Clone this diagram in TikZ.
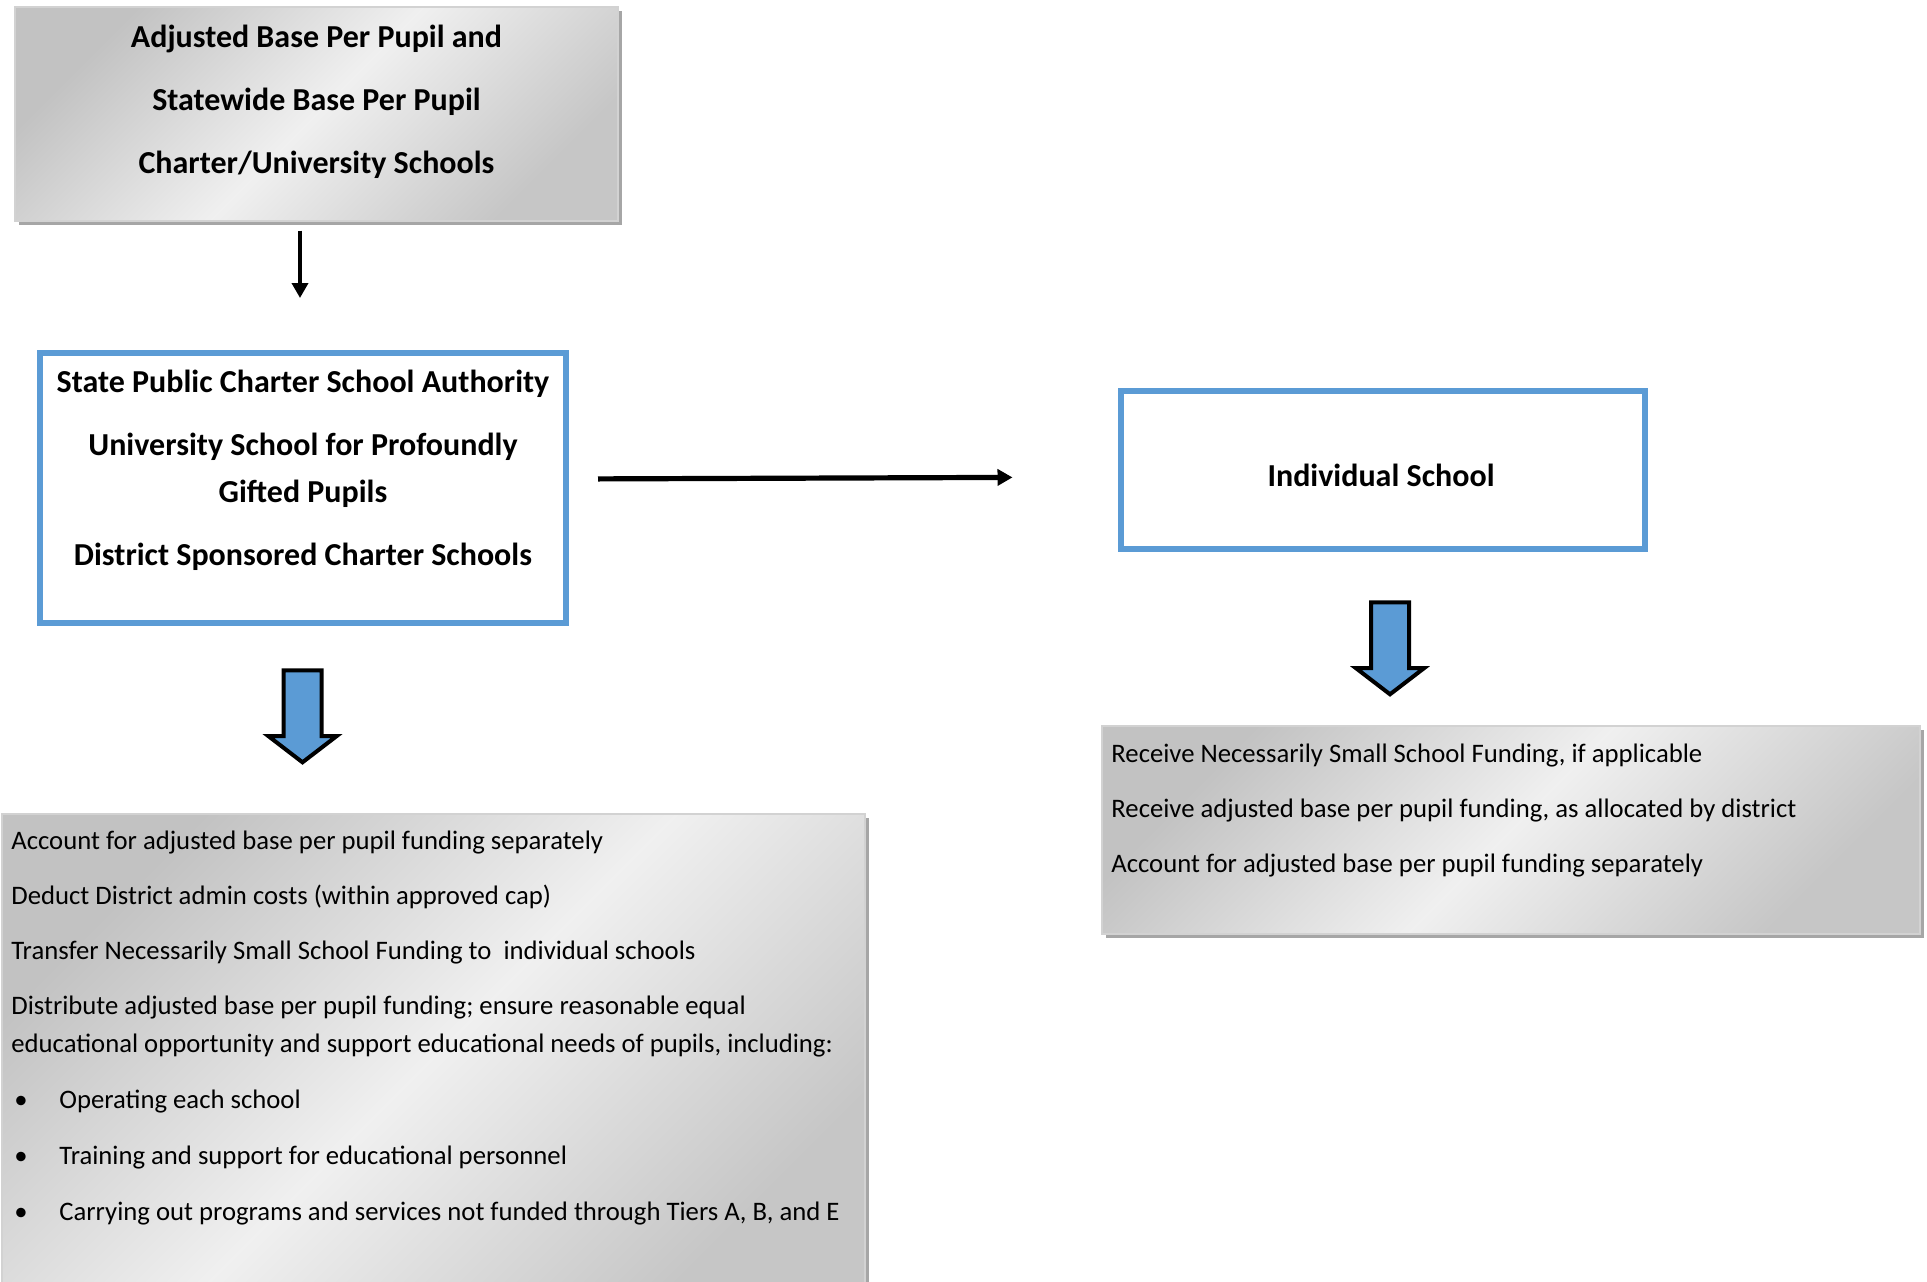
\documentclass[tikz,border=0pt]{standalone}
\usepackage{fontspec}
\setmainfont{Carlito}
\usetikzlibrary{arrows.meta,shapes.arrows,shadows}
\definecolor{boxblue}{RGB}{91,155,213}
\newcommand{\bul}{\hspace*{1.5pt}\makebox[22.5pt][l]{\textbullet}}

\begin{document}
\begin{tikzpicture}[x=0.5pt, y=-0.5pt,
    panel/.style={draw=gray!35, line width=0.6pt,
        top color=gray!48, bottom color=gray!45, middle color=gray!12, shading angle=45,
        drop shadow={shadow xshift=2pt, shadow yshift=-2pt, fill=gray!70, opacity=1}},
    bluebox/.style={draw=boxblue, line width=3pt, fill=white},
    head/.style={font=\fontsize{16pt}{23.5pt}\selectfont\bfseries, align=center, inner sep=0pt},
    body/.style={font=\fontsize{13.35pt}{19pt}\selectfont, align=left, inner sep=0pt, anchor=west},
    downarrow/.style={single arrow, rotate=-90, fill=boxblue, draw=black, line width=2pt,
        minimum height=46pt, minimum width=32pt, single arrow head extend=7.5pt,
        inner sep=8.5pt, single arrow tip angle=105},
]
    \useasboundingbox (0,0) rectangle (1927,1281);

    % TOP: funding source
    \node[panel, minimum width=301.5pt, minimum height=107pt] (funds) at (316.5,114) {};
    \node[head] (fundstext) at (316.5,101.5)
        {Adjusted Base Per Pupil and\\[8pt]Statewide Base Per Pupil\\[8pt]Charter/University Schools};

    % LEFT: authority and its duties
    \node[bluebox, minimum width=263pt, minimum height=135pt] (auth) at (303,488) {};
    \node[head] (authtext) at (303,470)
        {State Public Charter School Authority\\[8pt]University School for Profoundly\\Gifted Pupils\\[8pt]District Sponsored Charter Schools};

    \node[downarrow] (authdown) at (302.5,709) {};

    \node[panel, minimum width=431.5pt, minimum height=243pt] (authtasks) at (433.5,1057) {};
    \node[body] (authlist) at (11,1028.5)
        {Account for adjusted base per pupil funding separately\\[8.5pt]
         Deduct District admin costs (within approved cap)\\[8.5pt]
         Transfer Necessarily Small School Funding to \ individual schools\\[8.5pt]
         Distribute adjusted base per pupil funding; ensure reasonable equal\\
         educational opportunity and support educational needs of pupils, including:\\[9pt]
         \bul Operating each school\\[9pt]
         \bul Training and support for educational personnel\\[9pt]
         \bul Carrying out programs and services not funded through Tiers A, B, and E};

    % RIGHT: individual school
    \node[bluebox, minimum width=262pt, minimum height=79pt] (school) at (1382.5,470) {};
    \node[head] (schooltext) at (1381,475) {Individual School};

    \node[downarrow] (schooldown) at (1390,641) {};

    \node[panel, minimum width=409pt, minimum height=104pt] (schooltasks) at (1511,830) {};
    \node[body] (schoollist) at (1111,810.5)
        {Receive Necessarily Small School Funding, if applicable\\[8.5pt]
         Receive adjusted base per pupil funding, as allocated by district\\[8.5pt]
         Account for adjusted base per pupil funding separately};

    % connectors
    \draw[-{Triangle[length=7.5pt,width=8pt]}, line width=1.8pt, shorten <=4.5pt, shorten >=26pt]
        ([xshift=-1.5pt]auth.north |- funds.south) -- ([xshift=-1.5pt]auth.north);
    \draw[-{Triangle[length=7.5pt,width=8pt]}, line width=2.6pt, shorten <=14.5pt, shorten >=52.5pt]
        ([yshift=4.5pt]auth.east) -- ([yshift=-3.5pt]school.west);
\end{tikzpicture}
\end{document}
